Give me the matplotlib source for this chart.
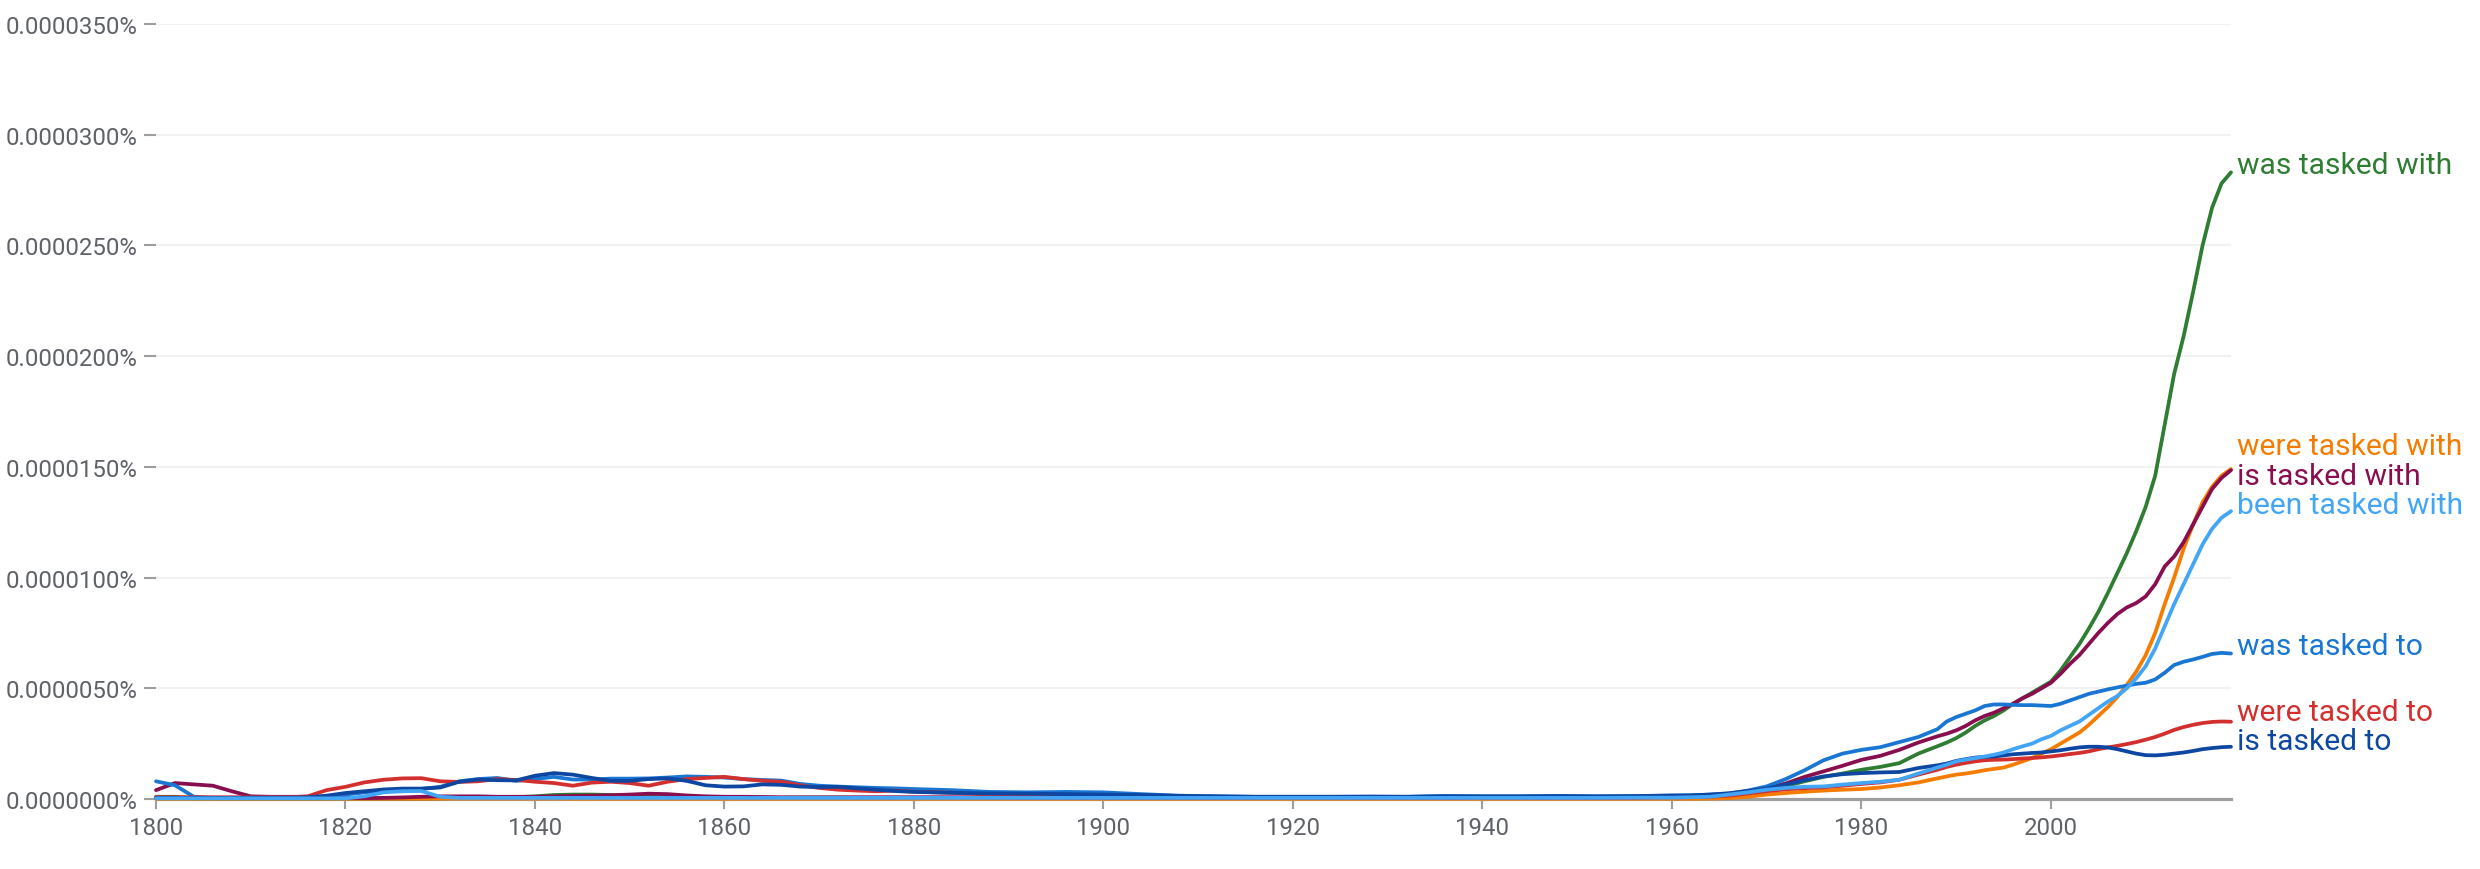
import numpy as np
import matplotlib
matplotlib.use("Agg")
import matplotlib.pyplot as plt
from matplotlib.ticker import FixedLocator, FuncFormatter

# ---------------- data (values in millionths of a percent) ----------------
YEARS = (list(range(1800, 1881, 2)) + list(range(1884, 1961, 4))
         + list(range(1962, 1989, 2)) + list(range(1989, 2020)))

NAMES = ["was tasked with", "were tasked with", "is tasked with",
         "been tasked with", "was tasked to", "were tasked to", "is tasked to"]

was_tasked_with = [
    0.10, 0.10, 0.03, 0.02, 0.02, 0.02, 0.02, 0.02, 0.02, 0.02,
    0.02, 0.02, 0.02, 0.02, 0.02, 0.03, 0.04, 0.05, 0.06, 0.08,
    0.12, 0.18, 0.20, 0.20, 0.18, 0.14, 0.10, 0.08, 0.07, 0.06,
    0.06, 0.06, 0.06, 0.05, 0.05, 0.05, 0.05, 0.05, 0.05, 0.05,
    0.05,
    0.05, 0.05, 0.05, 0.05, 0.05, 0.04, 0.04, 0.04, 0.04, 0.04,
    0.04, 0.04, 0.04, 0.04, 0.04, 0.04, 0.04, 0.04, 0.05, 0.06,
    0.06, 0.08, 0.15, 0.28, 0.42, 0.58, 0.80, 1.00, 1.15, 1.32, 1.45, 1.62, 2.05, 2.38,
    2.55, 2.75, 3.00, 3.30, 3.55, 3.75, 4.00, 4.30, 4.55, 4.80,
    5.05, 5.30, 5.80, 6.40, 7.00, 7.70, 8.45, 9.30, 10.20, 11.10,
    12.10, 13.20, 14.60, 16.90, 19.20, 20.90, 22.90, 25.00, 26.70, 27.80,
    28.30,
]

were_tasked_with = [
    0.01, 0.01, 0.01, 0.01, 0.01, 0.01, 0.01, 0.01, 0.01, 0.01,
    0.01, 0.01, 0.01, 0.01, 0.01, 0.02, 0.02, 0.02, 0.02, 0.02,
    0.02, 0.02, 0.01, 0.01, 0.01, 0.01, 0.01, 0.01, 0.01, 0.01,
    0.01, 0.01, 0.01, 0.01, 0.01, 0.01, 0.01, 0.01, 0.01, 0.01,
    0.01,
    0.01, 0.01, 0.01, 0.01, 0.01, 0.01, 0.01, 0.01, 0.01, 0.01,
    0.01, 0.01, 0.01, 0.01, 0.01, 0.01, 0.01, 0.01, 0.01, 0.01,
    0.01, 0.02, 0.04, 0.10, 0.20, 0.27, 0.33, 0.38, 0.42, 0.45, 0.52, 0.62, 0.75, 0.93,
    1.02, 1.10, 1.15, 1.22, 1.30, 1.36, 1.42, 1.55, 1.70, 1.85,
    2.05, 2.25, 2.50, 2.75, 3.00, 3.35, 3.75, 4.15, 4.60, 5.15,
    5.75, 6.50, 7.50, 8.80, 10.00, 11.30, 12.40, 13.40, 14.10, 14.60,
    14.90,
]

is_tasked_with = [
    0.40, 0.72, 0.66, 0.60, 0.35, 0.12, 0.10, 0.10, 0.10, 0.08,
    0.05, 0.04, 0.05, 0.07, 0.10, 0.12, 0.12, 0.12, 0.10, 0.10,
    0.10, 0.12, 0.14, 0.15, 0.17, 0.20, 0.24, 0.22, 0.16, 0.12,
    0.10, 0.10, 0.09, 0.08, 0.08, 0.08, 0.08, 0.08, 0.08, 0.08,
    0.08,
    0.08, 0.07, 0.06, 0.06, 0.06, 0.06, 0.06, 0.05, 0.05, 0.05,
    0.05, 0.05, 0.05, 0.05, 0.06, 0.06, 0.06, 0.06, 0.08, 0.10,
    0.12, 0.15, 0.22, 0.35, 0.50, 0.70, 1.00, 1.25, 1.50, 1.77, 1.95, 2.22, 2.55, 2.83,
    2.95, 3.10, 3.30, 3.55, 3.75, 3.90, 4.10, 4.30, 4.55, 4.75,
    5.00, 5.25, 5.65, 6.10, 6.50, 7.00, 7.50, 7.95, 8.35, 8.65,
    8.85, 9.15, 9.70, 10.50, 10.95, 11.60, 12.40, 13.20, 14.00, 14.50,
    14.85,
]

been_tasked_with = [
    0.03, 0.03, 0.03, 0.03, 0.03, 0.03, 0.03, 0.03, 0.03, 0.03,
    0.03, 0.12, 0.30, 0.35, 0.36, 0.10, 0.05, 0.05, 0.05, 0.05,
    0.05, 0.05, 0.05, 0.05, 0.05, 0.05, 0.05, 0.05, 0.05, 0.05,
    0.05, 0.05, 0.05, 0.05, 0.05, 0.05, 0.05, 0.05, 0.05, 0.05,
    0.05,
    0.05, 0.05, 0.05, 0.05, 0.05, 0.05, 0.05, 0.05, 0.05, 0.05,
    0.05, 0.05, 0.05, 0.05, 0.05, 0.05, 0.05, 0.05, 0.06, 0.06,
    0.08, 0.10, 0.20, 0.30, 0.42, 0.50, 0.55, 0.57, 0.65, 0.72, 0.78, 0.87, 1.15, 1.42,
    1.55, 1.70, 1.78, 1.85, 1.92, 2.00, 2.10, 2.25, 2.38, 2.50,
    2.70, 2.85, 3.10, 3.30, 3.50, 3.80, 4.10, 4.40, 4.65, 5.00,
    5.45, 6.00, 6.80, 7.80, 8.80, 9.70, 10.60, 11.50, 12.20, 12.70,
    13.00,
]

was_tasked_to = [
    0.80, 0.62, 0.10, 0.05, 0.05, 0.05, 0.05, 0.05, 0.06, 0.10,
    0.20, 0.30, 0.38, 0.42, 0.45, 0.55, 0.80, 0.90, 0.95, 0.82,
    0.90, 1.00, 0.88, 0.88, 0.92, 0.92, 0.93, 0.97, 1.02, 1.00,
    0.97, 0.90, 0.86, 0.83, 0.68, 0.60, 0.56, 0.53, 0.50, 0.48,
    0.45,
    0.40, 0.32, 0.30, 0.32, 0.30, 0.22, 0.15, 0.12, 0.10, 0.10,
    0.10, 0.10, 0.10, 0.14, 0.12, 0.12, 0.14, 0.12, 0.13, 0.15,
    0.17, 0.20, 0.24, 0.38, 0.57, 0.90, 1.30, 1.75, 2.05, 2.22, 2.34, 2.57, 2.80, 3.15,
    3.50, 3.70, 3.85, 4.00, 4.20, 4.27, 4.27, 4.25, 4.24, 4.24,
    4.22, 4.20, 4.30, 4.45, 4.60, 4.75, 4.85, 4.95, 5.04, 5.12,
    5.20, 5.25, 5.40, 5.70, 6.05, 6.20, 6.30, 6.42, 6.55, 6.60,
    6.57,
]

were_tasked_to = [
    0.08, 0.08, 0.08, 0.08, 0.08, 0.08, 0.08, 0.08, 0.12, 0.40,
    0.55, 0.75, 0.87, 0.93, 0.94, 0.80, 0.77, 0.80, 0.90, 0.86,
    0.78, 0.72, 0.60, 0.74, 0.78, 0.72, 0.60, 0.78, 0.90, 0.95,
    1.00, 0.90, 0.82, 0.78, 0.62, 0.50, 0.42, 0.38, 0.35, 0.38,
    0.33,
    0.28, 0.20, 0.15, 0.12, 0.10, 0.08, 0.08, 0.06, 0.05, 0.05,
    0.05, 0.05, 0.05, 0.05, 0.05, 0.05, 0.05, 0.05, 0.05, 0.08,
    0.08, 0.10, 0.15, 0.25, 0.35, 0.44, 0.49, 0.53, 0.60, 0.68, 0.75, 0.87, 1.10, 1.32,
    1.45, 1.55, 1.63, 1.70, 1.75, 1.77, 1.78, 1.80, 1.83, 1.85,
    1.88, 1.92, 1.97, 2.03, 2.08, 2.15, 2.25, 2.33, 2.40, 2.48,
    2.57, 2.68, 2.80, 2.95, 3.12, 3.25, 3.35, 3.43, 3.48, 3.50,
    3.49,
]

is_tasked_to = [
    0.05, 0.05, 0.05, 0.05, 0.05, 0.06, 0.06, 0.06, 0.08, 0.15,
    0.27, 0.35, 0.43, 0.47, 0.47, 0.52, 0.78, 0.88, 0.85, 0.84,
    1.05, 1.17, 1.10, 0.95, 0.82, 0.82, 0.90, 0.93, 0.82, 0.62,
    0.56, 0.57, 0.66, 0.64, 0.56, 0.54, 0.55, 0.48, 0.42, 0.36,
    0.32,
    0.28, 0.25, 0.24, 0.22, 0.20, 0.18, 0.14, 0.12, 0.10, 0.10,
    0.10, 0.11, 0.10, 0.12, 0.12, 0.12, 0.13, 0.12, 0.13, 0.16,
    0.16, 0.20, 0.26, 0.36, 0.47, 0.65, 0.85, 1.02, 1.12, 1.17, 1.20, 1.22, 1.40, 1.52,
    1.60, 1.72, 1.80, 1.87, 1.90, 1.92, 1.97, 2.02, 2.05, 2.08,
    2.10, 2.15, 2.20, 2.27, 2.33, 2.36, 2.36, 2.33, 2.25, 2.15,
    2.05, 1.98, 1.97, 2.00, 2.05, 2.10, 2.17, 2.25, 2.30, 2.34,
    2.36,
]

VALUES = [was_tasked_with, were_tasked_with, is_tasked_with, been_tasked_with,
          was_tasked_to, were_tasked_to, is_tasked_to]
COLORS = ["#2e7d32", "#f57c00", "#880e4f", "#42a5f5", "#1976d2", "#d32f2f", "#0d47a1"]
DRAW_ORDER = [0, 1, 2, 4, 5, 6, 3]

Y_TICKS = [0, 5, 10, 15, 20, 25, 30, 35]
X_TICKS = [1800, 1820, 1840, 1860, 1880, 1900, 1920, 1940, 1960, 1980, 2000]

for v in VALUES:
    assert len(v) == len(YEARS), (len(v), len(YEARS))

# ---------------- figure ----------------
plt.rcParams['font.family'] = ['Roboto', 'DejaVu Sans']
W, H, DPI = 2480, 870, 100
fig = plt.figure(figsize=(W / DPI, H / DPI), dpi=DPI)
fig.patch.set_facecolor("white")

left_px, right_px, top_px, bottom_px = 156, 2231, 25, 800
ax = fig.add_axes([left_px / W, 1 - bottom_px / H,
                   (right_px - left_px) / W, (bottom_px - top_px) / H])

ax.set_xlim(1800, 2019)
ax.set_ylim(0, 35)

ax.yaxis.set_major_locator(FixedLocator(Y_TICKS))
ax.yaxis.set_major_formatter(FuncFormatter(lambda v, p: f"{v * 1e-6:.7f}%"))
ax.xaxis.set_major_locator(FixedLocator(X_TICKS))
ax.xaxis.set_major_formatter(FuncFormatter(lambda v, p: f"{int(v)}"))

ax.grid(axis='y', color='#f1f1f1', linewidth=1.5, zorder=0)
ax.set_axisbelow(True)

for s in ['top', 'right', 'left']:
    ax.spines[s].set_visible(False)
ax.spines['bottom'].set_color('#9e9e9e')
ax.spines['bottom'].set_linewidth(2.3)
ax.spines['bottom'].set_zorder(1)

tick_col = '#5f6368'
ax.tick_params(axis='y', direction='out', length=8.5, width=1.5, color='#9e9e9e',
               pad=4.5, labelsize=17.3, labelcolor=tick_col)
ax.tick_params(axis='x', direction='out', length=7, width=1.5, color='#9e9e9e',
               pad=5, labelsize=17.3, labelcolor=tick_col)

for i in DRAW_ORDER:
    ax.plot(YEARS, VALUES[i], color=COLORS[i], linewidth=2.7, clip_on=False,
            solid_joinstyle='round', solid_capstyle='round', zorder=3)

# right-hand labels with simple de-overlap
ends = [v[-1] for v in VALUES]
order = sorted(range(len(ends)), key=lambda i: -ends[i])
pos = [ends[i] + 0.35 for i in order]
gap = 1.33
for _ in range(300):
    for k in range(len(pos) - 1):
        if pos[k] - pos[k + 1] < gap:
            mid = (pos[k] + pos[k + 1]) / 2
            pos[k] = mid + gap / 2
            pos[k + 1] = mid - gap / 2
for k, i in enumerate(order):
    ax.annotate(NAMES[i], xy=(YEARS[-1], pos[k]), xytext=(4, 0),
                textcoords='offset points', va='center', ha='left',
                color=COLORS[i], fontsize=21.6, annotation_clip=False)

fig.savefig("out.png", dpi=DPI, facecolor="white")
